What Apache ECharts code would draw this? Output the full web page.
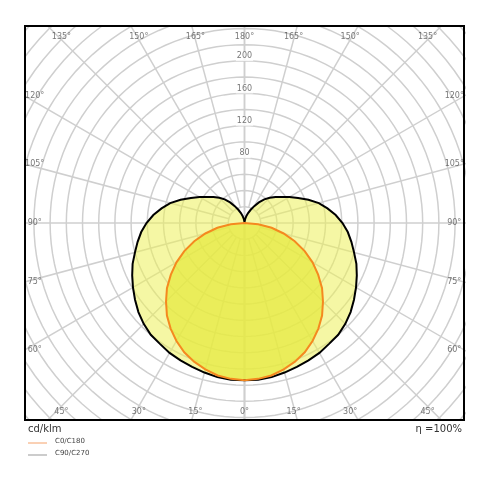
<!DOCTYPE html>
<html><head><meta charset="utf-8">
<script src="https://cdn.jsdelivr.net/npm/echarts@6/dist/echarts.min.js"></script>
<style>html,body{margin:0;background:#fff}#c{width:490px;height:490px}</style>
</head><body><div id="c"></div>
<script>
// luminous intensity, cd/klm, gamma angle from nadir
let anglesC0 = [0,5,10,15,20,25,30,35,40,45,50,55,60,65,70,75,80,85,90]
let valuesC0 = [194,193,191,187,182,176,168,159,149,137,125,111,97,82,66,50,34,17,0]
let anglesC90 = [0,5,10,15,20,25,30,35,40,45,50,55,60,65,70,75,80,85,90,95,100,105,110,115,120,125,130,135,140,145,150,155,160,165,170,175,180]
let valuesC90 = [194,194,193,191,189,187,185,182,180,176,171,165,159,153,147,140,134,128,121,113,104,95,84,73,64,56,50,44,38,31,24,18,13,9,5,2,0]
let ringLabels = [80,120,160,200]
let spokeAngles = [0,15,30,45,60,75,90,105,120,135,150,165,180]
const XMAX = 271, YMAX = 243

function toXY(a, r, side) {
  let t = a * Math.PI / 180
  return [side * r * Math.sin(t), -r * Math.cos(t)]
}
// closed outline: right half then left half mirrored
function outline(angles, values) {
  let pts = []
  for (let i = 0; i < angles.length; i++) pts.push(toXY(angles[i], values[i], 1))
  for (let i = angles.length - 1; i >= 0; i--) pts.push(toXY(angles[i], values[i], -1))
  return pts
}
let gridSeries = []
for (let r = 20; r <= 380; r += 20) {
  let d = []
  for (let a = 0; a <= 360; a += 3) d.push(toXY(a, r, 1))
  gridSeries.push({ type: 'line', data: d, symbol: 'none', silent: true, z: 1, lineStyle: { color: '#cfcfcf', width: 1.5 } })
}
spokeAngles.forEach(a => {
  [1, -1].forEach(s => {
    let start = a === 0 || a === 180 ? 0 : 20
    gridSeries.push({ type: 'line', data: [toXY(a, start, s), toXY(a, 400, s)], symbol: 'none', silent: true, z: 1, lineStyle: { color: '#cfcfcf', width: 1.5 } })
  })
})
gridSeries.push({ type: 'line', data: [toXY(0, 0, 1), toXY(0, 400, 1)], symbol: 'none', silent: true, z: 1, lineStyle: { color: '#cfcfcf', width: 1.5 } })

// angle labels where spokes meet the frame
let angleLabelData = []
spokeAngles.forEach(a => {
  [1, -1].forEach(s => {
    if ((a === 0 || a === 180) && s === -1) return
    let [dx, dy] = toXY(a, 1, s)
    let k = Math.min(Math.abs(dx) > 1e-6 ? XMAX / Math.abs(dx) : 1e9, Math.abs(dy) > 1e-6 ? YMAX / Math.abs(dy) : 1e9)
    let x = dx * k, y = dy * k
    let pos = 'inside'
    if (Math.abs(y) >= YMAX - 0.5) { y = y > 0 ? YMAX - 14 : -YMAX + 10; x = x * 0.93 }
    else { x = x > 0 ? XMAX - 12 : -XMAX + 12 }
    angleLabelData.push({ value: [x, y], label: { formatter: a + '°' } })
  })
})
ringLabels.forEach(r => angleLabelData.push({ value: [0, r + 6], label: { formatter: String(r), backgroundColor: '#fff' } }))

function polySeries(pts, fill, stroke, z) {
  return {
    type: 'custom', z: z, silent: true, data: [0],
    renderItem: (params, api) => ({
      type: 'polygon',
      shape: { points: pts.map(p => api.coord(p)), smooth: 0 },
      style: { fill: fill, stroke: stroke, lineWidth: 2 }
    })
  }
}

let chart = echarts.init(document.getElementById('c'))
chart.setOption({
  animation: false,
  grid: { left: 25, right: 26, top: 26, bottom: 70, show: true, borderColor: '#000', borderWidth: 2, z: 10 },
  xAxis: { type: 'value', min: -XMAX, max: XMAX, show: false },
  yAxis: { type: 'value', min: -YMAX, max: YMAX, show: false },
  series: gridSeries.concat([
    polySeries(outline(anglesC90, valuesC90), 'rgba(236,240,90,0.55)', null, 2),
    polySeries(outline(anglesC0, valuesC0), 'rgba(230,234,60,0.7)', null, 3),
    polySeries(outline(anglesC90, valuesC90), 'rgba(0,0,0,0)', '#000', 5),
    polySeries(outline(anglesC0, valuesC0), 'rgba(0,0,0,0)', '#f5891f', 6),
    { type: 'scatter', symbolSize: 0, silent: true, z: 8, data: angleLabelData,
      label: { show: true, position: 'inside', color: '#555', fontSize: 8, fontFamily: 'DejaVu Sans', padding: 1 } }
  ]),
  graphic: [
    { type: 'text', left: 28, top: 424, style: { text: 'cd/klm', fill: '#333', font: '10px DejaVu Sans' } },
    { type: 'text', right: 28, top: 424, style: { text: 'η =100%', fill: '#333', font: '10px DejaVu Sans' } },
    { type: 'line', shape: { x1: 28, y1: 443, x2: 47, y2: 443 }, style: { stroke: '#f5a26a', lineWidth: 1 } },
    { type: 'text', left: 55, top: 438, style: { text: 'C0/C180', fill: '#444', font: '7px DejaVu Sans' } },
    { type: 'line', shape: { x1: 28, y1: 455, x2: 47, y2: 455 }, style: { stroke: '#999', lineWidth: 1 } },
    { type: 'text', left: 55, top: 450, style: { text: 'C90/C270', fill: '#444', font: '7px DejaVu Sans' } }
  ]
})
</script></body></html>
